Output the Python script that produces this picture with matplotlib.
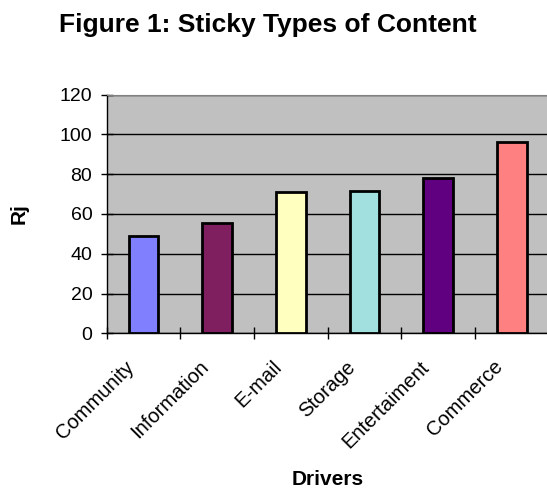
import numpy as np
import matplotlib.pyplot as plt
from matplotlib.ticker import FixedLocator
from matplotlib.transforms import ScaledTranslation

plt.rcParams['font.family'] = ['Liberation Sans', 'DejaVu Sans']

# Stickiness score per content driver
drivers = ['Community', 'Information', 'E-mail', 'Storage', 'Entertaiment', 'Commerce']
rj = [49, 55.6, 71, 71.5, 78, 96]
bar_colors = ['#8080FF', '#7F1F60', '#FFFFC0', '#A2DFDF', '#600080', '#FF8080']

fig = plt.figure(figsize=(5.47, 4.88), dpi=100)
ax = fig.add_axes([0.195, 0.317, 0.808, 0.489])
ax.set_facecolor('#C0C0C0')

x = np.arange(len(drivers))
ax.bar(x, rj, width=0.4, color=bar_colors, edgecolor='black', linewidth=2, zorder=3)

ax.set_xlim(-0.5, len(drivers) - 0.5)
ax.set_ylim(0, 120)
ax.set_yticks(np.arange(0, 121, 20))
ax.yaxis.grid(True, color='black', linewidth=1, zorder=0)
ax.set_axisbelow(True)

# category labels at the bar centres, tick marks between categories
ax.set_xticks(x)
ax.set_xticklabels(drivers, rotation=45, ha='right', va='center',
                   rotation_mode='anchor', fontsize=14.5)
ax.tick_params(axis='x', which='major', length=0, pad=22)
# nudge the slanted labels a little to the left of each bar
shift = ScaledTranslation(-0.12, 0, fig.dpi_scale_trans)
for lbl in ax.get_xticklabels():
    lbl.set_transform(lbl.get_transform() + shift)
ax.xaxis.set_minor_locator(FixedLocator(np.arange(-0.5, len(drivers), 1.0)))
ax.tick_params(axis='x', which='minor', length=8.6, width=1, direction='inout')
ax.tick_params(axis='y', length=8.6, width=1, direction='inout', labelsize=14, pad=6)

for side in ['left', 'bottom']:
    ax.spines[side].set_color('black')
    ax.spines[side].set_linewidth(1)
ax.spines['top'].set_color('#808080')
ax.spines['right'].set_visible(False)

ax.set_ylabel('Rj', fontsize=15, fontweight='bold', va='center', ha='center')
ax.yaxis.set_label_coords(-0.198, 0.5)
ax.set_xlabel('Drivers', fontsize=15, fontweight='bold', va='center', ha='center')
ax.xaxis.set_label_coords(0.5, -0.613)

fig.text(0.49, 1 - 32 / 488, 'Figure 1: Sticky Types of Content', fontsize=19,
         fontweight='bold', ha='center', va='baseline')

fig.savefig('out.png', dpi=100)
